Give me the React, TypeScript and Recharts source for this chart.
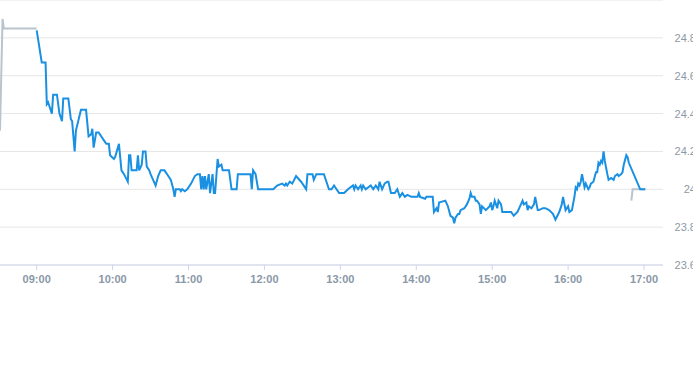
import React from "react";
import { CartesianGrid, Line, LineChart, XAxis, YAxis } from "recharts";

// pre-market (grey)
const preTimes = ["08:31", "08:33", "08:34", "09:00"];
const prePrices = [24.31, 24.9, 24.85, 24.85];

// regular session (blue)
const mainTimes = [
    "09:00", "09:04", "09:07", "09:08", "09:09", "09:10", "09:12", "09:13", "09:16", "09:18",
    "09:20", "09:21", "09:25", "09:27", "09:28", "09:30", "09:31", "09:35", "09:39", "09:41",
    "09:43", "09:44", "09:45", "09:47", "09:49", "09:53", "09:55", "09:57", "09:58", "10:01",
    "10:02", "10:05", "10:07", "10:09", "10:12", "10:13", "10:14", "10:15", "10:19", "10:20",
    "10:21", "10:23", "10:24", "10:26", "10:27", "10:29", "10:30", "10:32", "10:34", "10:36",
    "10:38", "10:41", "10:44", "10:46", "10:48", "10:49", "10:50", "10:53", "10:54", "10:55",
    "10:57", "10:59", "11:02", "11:05", "11:07", "11:09", "11:10", "11:11", "11:12", "11:13",
    "11:14", "11:16", "11:17", "11:19", "11:20", "11:21", "11:23", "11:24", "11:26", "11:27",
    "11:32", "11:34", "11:38", "11:39", "11:49", "11:50", "11:51", "11:53", "11:55", "12:07",
    "12:10", "12:14", "12:16", "12:17", "12:18", "12:20", "12:22", "12:25", "12:29", "12:33",
    "12:34", "12:38", "12:39", "12:41", "12:47", "12:51", "12:53", "12:55", "12:59", "13:03",
    "13:06", "13:10", "13:11", "13:12", "13:14", "13:16", "13:17", "13:18", "13:20", "13:24",
    "13:26", "13:28", "13:30", "13:31", "13:33", "13:35", "13:37", "13:38", "13:40", "13:43",
    "13:45", "13:47", "13:49", "13:51", "13:53", "13:56", "14:01", "14:02", "14:03", "14:07",
    "14:08", "14:13", "14:14", "14:16", "14:17", "14:18", "14:23", "14:25", "14:27", "14:29",
    "14:30", "14:31", "14:33", "14:34", "14:35", "14:38", "14:40", "14:42", "14:43", "14:44",
    "14:46", "14:47", "14:48", "14:50", "14:51", "14:52", "14:55", "14:58", "14:59", "15:00",
    "15:01", "15:02", "15:03", "15:04", "15:05", "15:07", "15:08", "15:15", "15:17", "15:20",
    "15:22", "15:24", "15:25", "15:27", "15:28", "15:29", "15:31", "15:33", "15:34", "15:36",
    "15:37", "15:40", "15:42", "15:45", "15:48", "15:50", "15:53", "15:55", "15:56", "15:58",
    "16:00", "16:01", "16:03", "16:05", "16:06", "16:07", "16:08", "16:09", "16:10", "16:11",
    "16:13", "16:14", "16:16", "16:17", "16:18", "16:20", "16:22", "16:23", "16:24", "16:25",
    "16:26", "16:27", "16:28", "16:29", "16:31", "16:32", "16:34", "16:36", "16:37", "16:39",
    "16:40", "16:42", "16:43", "16:44", "16:46", "16:47", "16:48", "16:57", "17:01",
];
const mainPrices = [
    24.84, 24.67, 24.67, 24.45, 24.46, 24.44, 24.4, 24.5, 24.5, 24.4,
    24.36, 24.48, 24.48, 24.37, 24.36, 24.2, 24.31, 24.42, 24.42, 24.28,
    24.29, 24.32, 24.22, 24.3, 24.3, 24.26, 24.24, 24.24, 24.18, 24.16,
    24.17, 24.24, 24.1, 24.08, 24.04, 24.18, 24.18, 24.1, 24.1, 24.18,
    24.1, 24.13, 24.2, 24.2, 24.12, 24.1, 24.08, 24.05, 24.02, 24.07,
    24.1, 24.1, 24.07, 24.05, 24.0, 23.96, 24.0, 24.0, 23.99, 24.0,
    23.99, 24.0, 24.03, 24.07, 24.08, 24.08, 24.0, 24.07, 24.0, 24.07,
    24.0, 24.08, 23.98, 24.08, 23.98, 23.98, 24.16, 24.12, 24.13, 24.1,
    24.1, 24.0, 24.0, 24.08, 24.08, 24.0, 24.1, 24.08, 24.0, 24.0,
    24.02, 24.03, 24.02, 24.03, 24.02, 24.04, 24.03, 24.07, 24.04, 24.0,
    24.08, 24.08, 24.05, 24.08, 24.08, 24.0, 24.0, 24.02, 23.98, 23.98,
    24.0, 24.02, 24.0, 24.02, 24.0, 24.02, 24.0, 24.02, 24.0, 24.02,
    24.0, 24.02, 24.0, 24.04, 24.0, 24.03, 24.04, 24.04, 23.98, 23.98,
    24.0, 23.96, 23.98, 23.96, 23.97, 23.96, 23.96, 23.98, 23.96, 23.95,
    23.96, 23.96, 23.88, 23.9, 23.88, 23.93, 23.94, 23.91, 23.86, 23.85,
    23.82, 23.85, 23.87, 23.87, 23.89, 23.9, 23.92, 23.95, 23.98, 23.96,
    23.96, 23.94, 23.94, 23.92, 23.87, 23.91, 23.89, 23.91, 23.93, 23.89,
    23.91, 23.94, 23.92, 23.9, 23.94, 23.92, 23.88, 23.88, 23.86, 23.88,
    23.91, 23.94, 23.92, 23.93, 23.89, 23.91, 23.9, 23.92, 23.96, 23.89,
    23.89, 23.9, 23.9, 23.89, 23.87, 23.84, 23.88, 23.92, 23.96, 23.89,
    23.91, 23.88, 23.89, 23.96, 24.01, 24.0, 24.03, 24.02, 24.04, 24.08,
    24.01, 24.03, 24.0, 24.01, 24.03, 24.04, 24.09, 24.09, 24.14, 24.13,
    24.15, 24.14, 24.2, 24.15, 24.08, 24.05, 24.06, 24.05, 24.07, 24.08,
    24.07, 24.08, 24.09, 24.13, 24.18, 24.17, 24.14, 24.0, 24.0,
];

// after hours (grey)
const postTimes = ["16:50", "16:51", "17:01"];
const postPrices = [23.94, 24.0, 24.0];

const xTicks = ["09:00", "10:00", "11:00", "12:00", "13:00", "14:00", "15:00", "16:00", "17:00"];
const yTicks = [23.6, 23.8, 24, 24.2, 24.4, 24.6, 24.8];

const toMin = (s: string) => {
    const [h, m] = s.split(":").map(Number);
    return h * 60 + m;
};
const fmtMin = (v: number) =>
    `${String(Math.floor(v / 60)).padStart(2, "0")}:${String(v % 60).padStart(2, "0")}`;

const build = (times: string[], prices: number[]) =>
    times.map((t, i) => ({ t: toMin(t), price: prices[i] }));

const preData = build(preTimes, prePrices);
const mainData = build(mainTimes, mainPrices);
const postData = build(postTimes, postPrices);

const BLUE = "#1a90e2";
const GREY = "#b9c4cc";

function YTick({ x, y, payload }: any) {
    return (
        <text x={x + 25} y={y} dy={4} textAnchor="end" fill="#8d99a6" fontSize={11}>
            {payload.value}
        </text>
    );
}

export default function App() {
    return (
        <div style={{ position: "absolute", left: 0, top: 0, fontFamily: "'Liberation Sans', Arial, sans-serif" }}>
            <LineChart width={693} height={365} margin={{ top: 0, right: 0, left: 0, bottom: 70 }}>
                <CartesianGrid vertical={false} stroke="#e6e6e6" />
                <XAxis
                    dataKey="t"
                    type="number"
                    domain={[511, 1035]}
                    ticks={xTicks.map(toMin)}
                    tickFormatter={fmtMin}
                    height={30}
                    stroke="#ccd6eb"
                    tickSize={5}
                    tickMargin={5}
                    tick={{ fill: "#8a98a8", fontSize: 11, fontWeight: 600 }}
                    allowDataOverflow
                />
                <YAxis
                    orientation="right"
                    width={30}
                    domain={[23.6, 25]}
                    ticks={yTicks}
                    axisLine={false}
                    tickLine={false}
                    tick={<YTick />}
                    allowDataOverflow
                />
                <Line data={preData} dataKey="price" stroke={GREY} strokeWidth={2} dot={false} activeDot={false} isAnimationActive={false} />
                <Line data={postData} dataKey="price" stroke={GREY} strokeWidth={2} dot={false} activeDot={false} isAnimationActive={false} />
                <Line data={mainData} dataKey="price" stroke={BLUE} strokeWidth={2} dot={false} activeDot={false} isAnimationActive={false} />
            </LineChart>
        </div>
    );
}
